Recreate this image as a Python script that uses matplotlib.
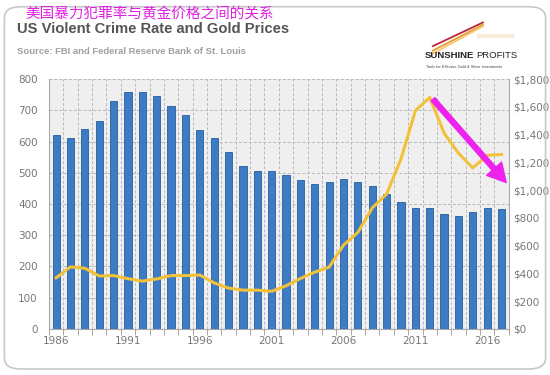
import matplotlib.pyplot as plt
import numpy as np
from matplotlib.patches import FancyBboxPatch, FancyArrowPatch
from matplotlib.ticker import FuncFormatter, MultipleLocator

plt.rcParams['font.family'] = ['DejaVu Sans', 'Noto Sans CJK SC']

years = list(range(1986, 2018))
crime_rate = [620, 612, 641, 667, 730, 758, 758, 747, 714, 685, 637, 611, 568, 523,
              507, 505, 494, 476, 463, 469, 479, 472, 459, 432, 405, 387, 388, 369,
              362, 374, 386, 383]
gold_price = [368, 447, 437, 381, 384, 362, 344, 360, 384, 384, 388, 331, 294, 279,
              279, 271, 310, 363, 409, 445, 604, 695, 872, 972, 1225, 1572, 1669,
              1411, 1266, 1160, 1251, 1257]
year_ticks = [1986, 1991, 1996, 2001, 2006, 2011, 2016]

title = "US Violent Crime Rate and Gold Prices"
subtitle = "Source: FBI and Federal Reserve Bank of St. Louis"
cn_title = "美国暴力犯罪率与黄金价格之间的关系"

fig = plt.figure(figsize=(5.5, 3.75), dpi=100)
fig.patch.set_facecolor('white')

# rounded frame
frame = FancyBboxPatch((0.008, 0.016), 0.984, 0.966, boxstyle="round,pad=0,rounding_size=0.03",
                       transform=fig.transFigure, facecolor='none', edgecolor='#c8c8c8', lw=1.2)
fig.patches.append(frame)

ax = fig.add_axes([0.089, 0.123, 0.836, 0.666])
ax.set_facecolor('#efefef')

x = np.arange(len(years))
ax.bar(x, crime_rate, width=0.5, color='#3d7cc4', edgecolor='#245f9f', linewidth=0.6, zorder=3)
ax.set_xlim(-0.5, len(years) - 0.5)
ax.set_ylim(0, 800)
ax.yaxis.set_major_locator(MultipleLocator(100))
ax.set_xticks([years.index(y) for y in year_ticks])
ax.set_xticklabels([str(y) for y in year_ticks])
ax.set_xticks(np.arange(-0.5, len(years)), minor=True)
ax.grid(which='minor', axis='x', color='#b8b8b8', ls=(0, (3, 2)), lw=0.7, zorder=0)
ax.grid(which='major', axis='y', color='#b8b8b8', ls=(0, (3, 2)), lw=0.7, zorder=0)
ax.tick_params(axis='x', which='major', length=0, colors='#777777', labelsize=7.5, pad=5)
ax.tick_params(axis='x', which='minor', length=4, color='#999999')
ax.tick_params(axis='y', length=0, colors='#777777', labelsize=7.5, pad=8)
for s in ['top', 'right']:
    ax.spines[s].set_visible(False)
ax.spines['left'].set_color('#aaaaaa')
ax.spines['bottom'].set_color('#aaaaaa')

ax2 = ax.twinx()
ax2.plot(x, gold_price, color='#f2c13a', lw=2.2, zorder=4)
ax2.set_ylim(0, 1800)
ax2.yaxis.set_major_locator(MultipleLocator(200))
ax2.yaxis.set_major_formatter(FuncFormatter(lambda v, p: f"${v:,.0f}"))
ax2.tick_params(axis='y', length=0, colors='#777777', labelsize=7.5, pad=3)
for s in ['top', 'left', 'bottom']:
    ax2.spines[s].set_visible(False)
ax2.spines['right'].set_color('#aaaaaa')

# magenta arrow
arrow = FancyArrowPatch((years.index(2012) + 0.1, 1670), (years.index(2017) + 0.45, 1040),
                        arrowstyle='simple,head_width=1.2,head_length=1.1,tail_width=0.3',
                        mutation_scale=12, color='#ee22ee', zorder=5, clip_on=False)
ax2.add_patch(arrow)

# titles
fig.text(0.047, 0.963, cn_title, color='#e020e0', fontsize=10.5, family=['Noto Sans CJK SC'], va='center')
fig.text(0.031, 0.922, title, color='#555555', fontsize=10.6, fontweight='bold',
         family=['Liberation Sans Narrow', 'Liberation Sans'], va='center')
fig.text(0.031, 0.862, subtitle, color='#a0a0a0', fontsize=6.8, fontweight='bold',
         family=['Liberation Sans Narrow', 'Liberation Sans'], va='center')

# logo
for dy, c in [(0.0, '#b82835'), (-0.012, '#e89a30'), (-0.02, '#f3c870')]:
    fig.add_artist(plt.Line2D([0.787, 0.878], [0.877 + dy, 0.94 + dy * 0.5], color=c, lw=1.3,
                              transform=fig.transFigure))
fig.add_artist(plt.Line2D([0.87, 0.93], [0.905, 0.905], color='#f0e0c0', lw=3,
                          transform=fig.transFigure, alpha=0.6))
sun = fig.text(0.773, 0.852, "SUNSHINE", color='#222222', fontsize=6.8, fontweight='bold',
               family=['Liberation Sans Narrow', 'Liberation Sans'], va='center')
ax.annotate("PROFITS", xy=(1, 0.5), xycoords=sun, xytext=(1.5, 0), textcoords='offset points',
            color='#222222', fontsize=6.8, family=['Liberation Sans Narrow', 'Liberation Sans'],
            va='center', ha='left', annotation_clip=False)
fig.text(0.775, 0.822, "Tools for Effective Gold & Silver Investments", color='#444444',
         fontsize=2.8, family=['Liberation Sans'], va='center')

fig.savefig('out.png', dpi=100)
